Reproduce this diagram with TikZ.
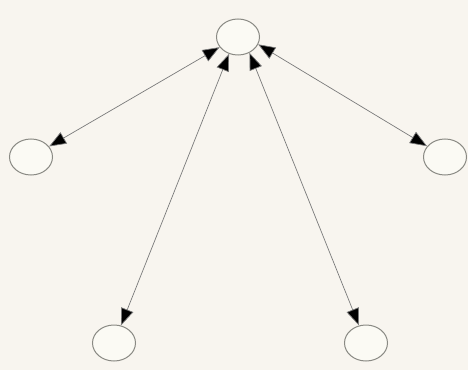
\documentclass[tikz,border=0pt]{standalone}
\usetikzlibrary{arrows.meta,shapes.geometric}
\definecolor{paper}{HTML}{F8F5EF}
\definecolor{nodefill}{HTML}{FBFAF4}
\definecolor{edgegray}{HTML}{7A7A7A}
\definecolor{rimgray}{HTML}{8A8A84}
\begin{document}
\begin{tikzpicture}[x=1pt,y=1pt,
  vert/.style={ellipse, draw=rimgray, line width=1pt, fill=nodefill, minimum width=43pt, minimum height=36pt, inner sep=0pt},
  link/.style={draw=edgegray, line width=0.7pt, {Triangle[length=17pt,width=13pt,fill=black]}-{Triangle[length=17pt,width=13pt,fill=black]}}
]
\fill[paper] (0,0) rectangle (468,370);
\useasboundingbox (0,0) rectangle (468,370);
\node[vert] (top) at (238,333) {};
\node[vert] (left) at (31,213) {};
\node[vert] (right) at (445,213) {};
\node[vert] (bl) at (114,27) {};
\node[vert] (br) at (366,27) {};
\draw[link] (left) -- (top.209);
\draw[link] (right) -- (top.340);
\draw[link] (bl) -- (top.242);
\draw[link] (br) -- (top.306);
\end{tikzpicture}
\end{document}
